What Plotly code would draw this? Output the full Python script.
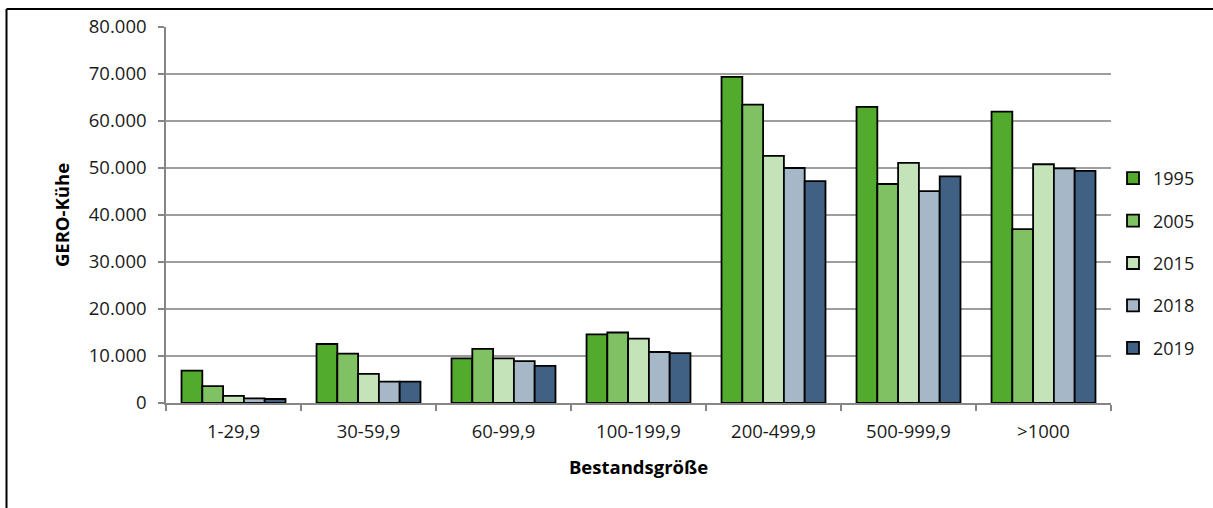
import plotly.graph_objects as go

categories = ["1-29,9", "30-59,9", "60-99,9", "100-199,9", "200-499,9", "500-999,9", ">1000"]
years = ["1995", "2005", "2015", "2018", "2019"]
v1995 = [6900, 12550, 9500, 14600, 69400, 63000, 62000]
v2005 = [3600, 10500, 11500, 15000, 63500, 46600, 37000]
v2015 = [1500, 6200, 9500, 13700, 52600, 51100, 50800]
v2018 = [1000, 4550, 8900, 10850, 50000, 45100, 49900]
v2019 = [850, 4550, 7900, 10600, 47200, 48200, 49400]
series = [v1995, v2005, v2015, v2018, v2019]
colors = ["#52AB2D", "#80C164", "#C5E3B8", "#A6B8C8", "#416184"]

FONT = "Open Sans"
TXT = "#1a1a1a"

fig = go.Figure()
for name, vals, col in zip(years, series, colors):
    fig.add_trace(go.Bar(
        x=categories, y=vals, name=name, legendgroup=name,
        marker=dict(color=col, line=dict(color="#000000", width=1.8)),
    ))

W, H = 1213, 508
L, R, T, B = 166, 102, 27, 105
pw, ph = W - L - R, H - T - B

fig.update_layout(
    width=W, height=H,
    margin=dict(l=L, r=R, t=T, b=B, autoexpand=False),
    paper_bgcolor="white", plot_bgcolor="white",
    barmode="group", bargap=0.23, bargroupgap=0,
    separators=",.",
    font=dict(family=FONT, size=18, color=TXT),
    showlegend=True,
    legend=dict(xref="container", yref="container", x=1113 / W, xanchor="left",
                y=(H - 263) / H, yanchor="middle",
                font=dict(family=FONT, size=18, color=TXT),
                tracegroupgap=16, itemwidth=30, bgcolor="rgba(0,0,0,0)"),
    xaxis=dict(
        type="category", showline=True, linecolor="#868686", linewidth=1.5,
        ticks="outside", tickson="boundaries", ticklen=6, tickcolor="#868686", tickwidth=1.5,
        tickfont=dict(family=FONT, size=18.5, color=TXT), ticklabelstandoff=11,
        showgrid=False, automargin=False,
        title=dict(text="<b>Bestandsgröße</b>", font=dict(family=FONT, size=18.5, color="#000"), standoff=19),
    ),
    yaxis=dict(
        range=[0, 80000], tickvals=[0, 10000, 20000, 30000, 40000, 50000, 60000, 70000, 80000],
        tickformat=",.0f", showline=True, linecolor="#868686", linewidth=1.5,
        ticks="outside", ticklen=6, tickcolor="#868686", tickwidth=1.5,
        tickfont=dict(family=FONT, size=18.5, color=TXT), ticklabelstandoff=8,
        showgrid=True, gridcolor="#9E9E9E", gridwidth=1.6, zeroline=False, automargin=False,
        title=dict(text="<b>GERO-Kühe</b>", font=dict(family=FONT, size=18.5, color="#000"), standoff=14),
    ),
)

# outer chart frame (left and top edges visible)
x_left = (6.5 - L) / pw
y_top = (H - B - 9) / ph
fig.add_shape(type="line", xref="paper", yref="paper", x0=x_left, x1=x_left, y0=y_top, y1=-1,
              line=dict(color="#000000", width=2))
fig.add_shape(type="line", xref="paper", yref="paper", x0=x_left, x1=2, y0=y_top, y1=y_top,
              line=dict(color="#000000", width=2))

fig.write_html("out.html", config={"displayModeBar": False},
               post_script="document.body.style.margin='0';")
